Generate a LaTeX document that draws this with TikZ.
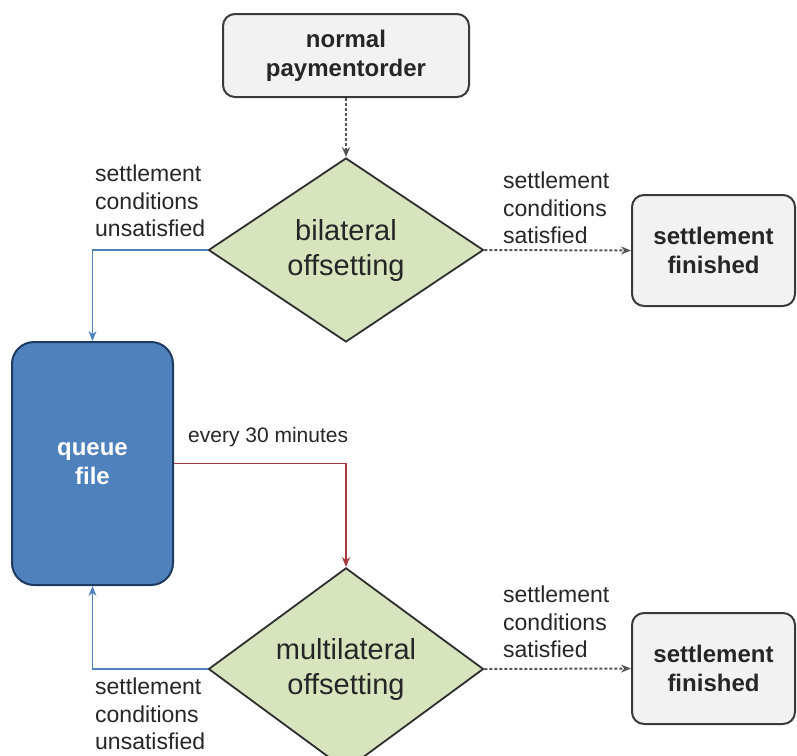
\documentclass[tikz,border=0pt]{standalone}
\usepackage{fontspec}
\setmainfont{Liberation Sans}
\usetikzlibrary{shapes.geometric,arrows.meta}
\definecolor{boxfill}{HTML}{F2F2F2}
\definecolor{boxline}{HTML}{3A3A3A}
\definecolor{dfill}{HTML}{D7E4BD}
\definecolor{dline}{HTML}{2E2E2E}
\definecolor{qfill}{HTML}{4F81BD}
\definecolor{qline}{HTML}{1F3A60}
\definecolor{bluec}{HTML}{4F81BD}
\definecolor{redc}{HTML}{A8383B}
\definecolor{dashc}{HTML}{555555}
\definecolor{txt}{HTML}{262626}
\begin{document}
\begin{tikzpicture}[x=1pt,y=-1pt,
  endbox/.style={draw=boxline,line width=2pt,fill=boxfill,rounded corners=12pt,
    align=center,font=\fontsize{24}{29}\selectfont\bfseries,text=txt,inner sep=0pt},
  decision/.style={diamond,draw=dline,line width=1.8pt,fill=dfill,inner sep=0pt,
    minimum width=275pt,minimum height=184pt,align=center,
    font=\fontsize{29}{35}\selectfont,text=txt},
  queuebox/.style={draw=qline,line width=2pt,fill=qfill,rounded corners=22pt,
    align=center,font=\fontsize{24}{29}\selectfont\bfseries,text=white,inner sep=0pt},
  lbl/.style={align=left,font=\fontsize{23}{27.5}\selectfont,text=txt,inner sep=0pt,anchor=north west},
  dashline/.style={draw=dashc,line width=2pt,dash pattern=on 3pt off 2pt,
    -{Stealth[length=10pt,width=8pt]}},
  blueline/.style={draw=bluec,line width=1.8pt,-{Stealth[length=10pt,width=8pt]}},
  redline/.style={draw=redc,line width=1.8pt,-{Stealth[length=10pt,width=8pt]}}
]
\useasboundingbox (0,0) rectangle (797,755);

\node[endbox,minimum width=246pt,minimum height=83pt] (top) at (346,55.5) {normal\\paymentorder};
\node[decision] (bil) at (346,250) {bilateral\\offsetting};
\node[endbox,minimum width=163pt,minimum height=111pt] (sf1) at (713.5,250.5) {settlement\\finished};
\node[queuebox,minimum width=161pt,minimum height=243pt] (queue) at (92.5,463.5) {queue\\file};
\node[decision] (mul) at (346,669) {multilateral\\offsetting};
\node[endbox,minimum width=163pt,minimum height=111pt] (sf2) at (713.5,668.5) {settlement\\finished};

\node[lbl] (l1) at (95,165) {settlement\\conditions\\unsatisfied};
\node[lbl] (l2) at (503,172) {settlement\\conditions\\satisfied};
\node[lbl,font=\fontsize{21}{25}\selectfont] (l3) at (188,427) {every 30 minutes};
\node[lbl] (l4) at (503,586) {settlement\\conditions\\satisfied};
\node[lbl] (l5) at (95,678) {settlement\\conditions\\unsatisfied};

\draw[dashline] (top.south) -- (bil.north);
\draw[dashline] (bil.east) -- (sf1.west);
\draw[blueline] (bil.west) -| (queue.north);
\draw[redline] (queue.east) -| (mul.north);
\draw[blueline] (mul.west) -| (queue.south);
\draw[dashline] (mul.east) -- (sf2.west);
\end{tikzpicture}
\end{document}
